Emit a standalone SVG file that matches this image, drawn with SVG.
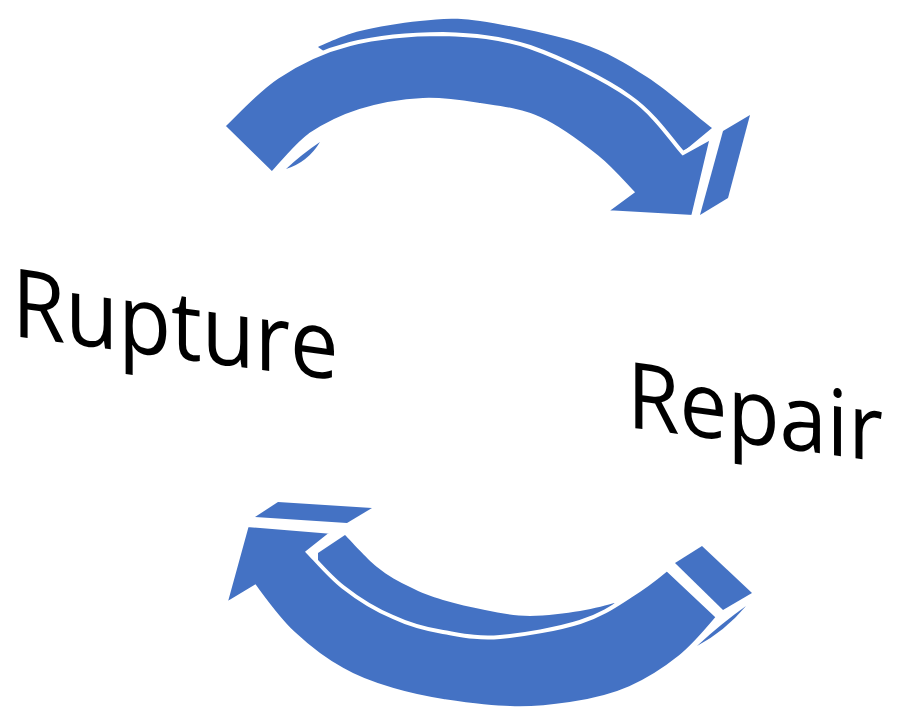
<svg xmlns="http://www.w3.org/2000/svg" width="897" height="711" viewBox="0 0 897 711">
<style>
.blue{fill:#4472C4}
.front{fill:#4472C4;stroke:#fff;stroke-width:4;stroke-linejoin:miter}
.lbl{font-family:"Open Sans","Noto Sans","Liberation Sans",sans-serif;fill:#000}
</style>
<rect width="897" height="711" fill="#fff"/>
<g id="connectors">
<g id="arrow-top">
<path class="blue" d="M318,47 C325,44 343,35 360,31 C377,27 400,23 420,21 C440,19 453,17 480,21 C507,25 552,34 580,43 C608,52 625,63 647,77 C669,91 701,120 712,128 L683,152 L650,140 L560,90 L443,60 L350,70 Z"/>
<path class="blue" d="M286,169 Q302,154 320,142 Q308,162 286,169 Z"/>
<polygon class="blue" points="723,131 750,115 728,198 700,215"/>
<path class="front" d="M223,126 C232,118 256,91 277,77 C298,63 322,51 350,44 C378,37 413,34 443,34 C473,35 499,37 530,47 C561,58 605,79 630,97 C656,115 674,144 683,153 L712,137 L693,217 L605,212 L632,192 C626,186 612,169 597,157 C582,145 560,128 540,119 C521,110 500,108 480,105 C461,102 443,99 423,100 C403,101 379,105 360,111 C341,117 325,125 310,135 C295,146 278,168 272,174 Z"/>
</g>
<g id="arrow-bottom">
<path class="blue" d="M318,553 L345,535 C350,540 366,558 377,567 C388,576 399,582 410,587 C421,593 431,596 443,600 C456,604 471,607 485,610 C500,613 514,616 530,616 C546,616 566,613 580,611 C594,609 609,604 615,603 L560,650 L443,650 L360,610 L318,570 Z"/>
<polygon class="blue" points="255,517 278,502 372,508 347,523"/>
<polygon class="blue" points="675,563 702,546 752,593 723,610"/>
<path class="blue" d="M697,646 Q720,624.5 746,606 Q725,631 697,646 Z"/>
<path class="front" d="M225,605 L247,525 L333,532 L308,552 C314,558 329,576 343,587 C357,598 376,610 393,617 C410,625 425,629 443,632 C461,635 477,639 500,637 C523,635 558,629 580,622 C602,615 616,605 630,596 C645,587 661,574 667,569 L718,617 C712,624 695,645 680,657 C665,669 648,680 630,688 C612,696 590,701 570,704 C550,707 531,709 510,708 C489,708 463,704 443,701 C424,698 410,695 393,690 C376,685 360,680 343,670 C326,661 308,647 293,633 C278,619 261,595 255,587 Z"/>
</g>
</g>
<g id="rupture" transform="skewY(7.8)">
<text class="lbl" transform="translate(12,334) scale(0.909,1)" x="0" y="0" font-size="95">Rupture</text>
</g>
<g id="repair" transform="skewY(7.8)">
<text class="lbl" transform="translate(627,341) scale(0.926,1)" x="0" y="0" font-size="92">Repair</text>
</g>
</svg>
